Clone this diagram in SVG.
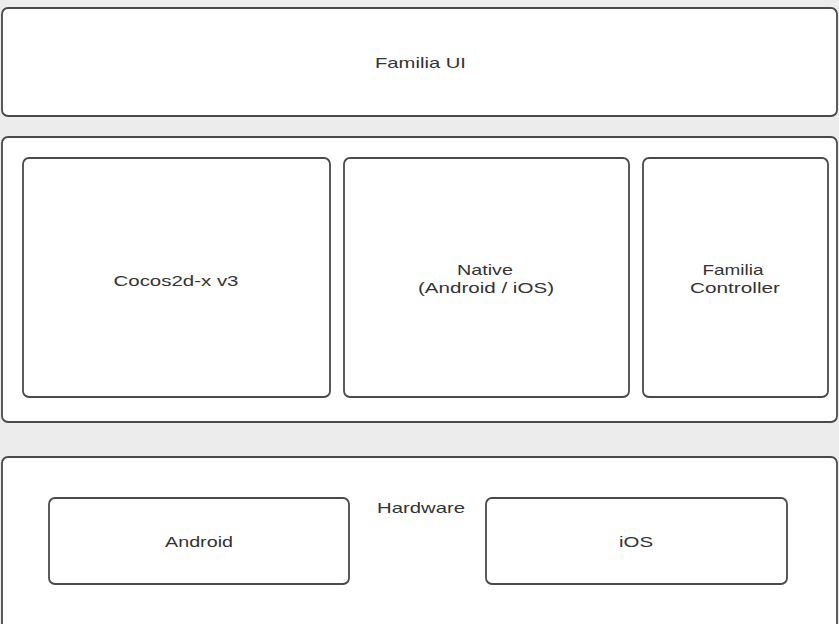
<svg xmlns="http://www.w3.org/2000/svg" width="839" height="624" viewBox="0 0 839 624">
<style>
.box{fill:#fff;stroke:#4a4a4a;stroke-width:1.8}
.t{font-family:"Liberation Sans",Arial,sans-serif;font-size:15px;fill:#333;text-anchor:middle}
</style>
<rect x="0" y="0" width="839" height="624" fill="#ececec"/>
<g id="familia-ui">
<rect class="box" x="2" y="8" width="835" height="108" rx="6"/>
<text class="t" x="420.5" y="68" textLength="91" lengthAdjust="spacingAndGlyphs">Familia UI</text>
</g>
<g id="middle-layer">
<rect class="box" x="2" y="137" width="835" height="285" rx="6"/>
</g>
<g id="cocos">
<rect class="box" x="23" y="158" width="307" height="239" rx="6"/>
<text class="t" x="176" y="286" textLength="125" lengthAdjust="spacingAndGlyphs">Cocos2d-x v3</text>
</g>
<g id="native">
<rect class="box" x="344" y="158" width="285" height="239" rx="6"/>
<text class="t" x="485" y="275" textLength="56" lengthAdjust="spacingAndGlyphs">Native</text>
<text class="t" x="486" y="293" textLength="136" lengthAdjust="spacingAndGlyphs">(Android / iOS)</text>
</g>
<g id="familia-controller">
<rect class="box" x="643" y="158" width="185" height="239" rx="6"/>
<text class="t" x="733" y="275" textLength="61" lengthAdjust="spacingAndGlyphs">Familia</text>
<text class="t" x="735" y="293" textLength="90" lengthAdjust="spacingAndGlyphs">Controller</text>
</g>
<g id="hardware">
<rect class="box" x="2" y="457" width="835" height="175" rx="6"/>
<text class="t" x="421" y="513" textLength="88" lengthAdjust="spacingAndGlyphs">Hardware</text>
</g>
<g id="android">
<rect class="box" x="49" y="498" width="300" height="86" rx="6"/>
<text class="t" x="199" y="547" textLength="68" lengthAdjust="spacingAndGlyphs">Android</text>
</g>
<g id="ios">
<rect class="box" x="486" y="498" width="301" height="86" rx="6"/>
<text class="t" x="636" y="547" textLength="34" lengthAdjust="spacingAndGlyphs">iOS</text>
</g>
<g id="connectors"/>
</svg>
